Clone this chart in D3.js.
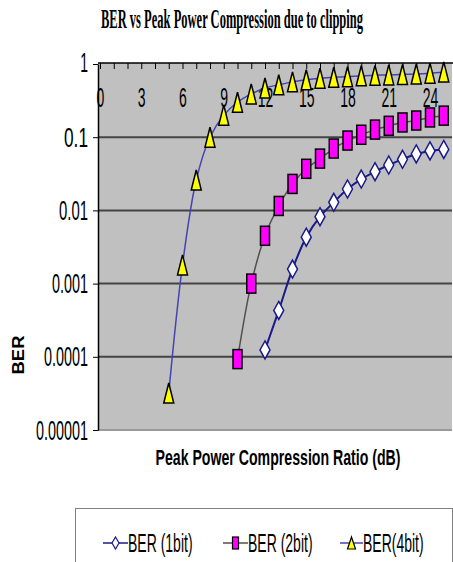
<!DOCTYPE html>
<html><head><meta charset="utf-8">
<script src="https://cdn.jsdelivr.net/npm/d3@7"></script>
<style>html,body{margin:0;padding:0;background:#fff;}svg{display:block;}</style>
</head><body>
<script>
// ---- data ----
const xTickValues = [0,1,2,3,4,5,6,7,8,9,10,11,12,13,14,15,16,17,18,19,20,21,22,23,24,25];
const xTickLabels = ["0","3","6","9","12","15","18","21","24"];
const yTickValues = [0.00001, 0.0001, 0.001, 0.01, 0.1, 1];
const yTickLabels = ["0.00001","0.0001","0.001","0.01","0.1","1"];

const ratio1bit = [12,13,14,15,16,17,18,19,20,21,22,23,24,25];
const ber1bit   = [0.000124,0.00043,0.00158,0.0043,0.0082,0.0129,0.0196,0.0268,0.0338,0.0417,0.0499,0.059,0.065,0.068];
const ratio2bit = [10,11,12,13,14,15,16,17,18,19,20,21,22,23,24,25];
const ber2bit   = [0.000093,0.001,0.0045,0.0115,0.023,0.037,0.051,0.070,0.090,0.108,0.127,0.143,0.159,0.169,0.186,0.197];
const ratio4bit = [5,6,7,8,9,10,11,12,13,14,15,16,17,18,19,20,21,22,23,24,25];
const ber4bit   = [0.000032,0.0018,0.026,0.1,0.2,0.3,0.39,0.47,0.52,0.57,0.61,0.64,0.66,0.67,0.69,0.70,0.71,0.72,0.73,0.75,0.78];

const seriesNames = ["BER (1bit)","BER (2bit)","BER(4bit)"];
const chartTitle = "BER vs Peak Power Compression due to clipping";
const xTitle = "Peak Power Compression Ratio (dB)";
const yTitle = "BER";

// ---- layout ----
const W = 453, H = 562;
const L = 98, R = 452, T = 63, B = 430;
const svg = d3.select("body").append("svg").attr("width", W).attr("height", H);
const sans = "'Liberation Sans', Arial, sans-serif";

const x = d3.scaleLinear().domain([0, 25.6]).range([100, 452]);
const y = d3.scaleLog().domain([1e-5, 1]).range([430, 64]);

function sText(g, px, py, str, k, opts) {
  opts = opts || {};
  const t = g.append("text")
    .attr("transform", `translate(${px},${py}) scale(1,${k})`)
    .attr("text-anchor", opts.anchor || "middle")
    .attr("font-family", opts.family || sans)
    .attr("font-size", opts.size || 14)
    .attr("font-weight", opts.weight || "normal")
    .attr("fill", "#000")
    .text(str);
  if (opts.len) t.attr("textLength", opts.len).attr("lengthAdjust", "spacingAndGlyphs");
  return t;
}

// plot background
svg.append("rect").attr("x", L).attr("y", T).attr("width", R - L).attr("height", B - T).attr("fill", "#c0c0c0");
svg.append("line").attr("x1", L).attr("x2", R).attr("y1", B).attr("y2", B).attr("stroke", "#9a9a9a").attr("stroke-width", 2);

// gridlines
svg.append("g").selectAll("line").data(yTickValues.filter(v => v > 1e-5 && v < 1)).join("line")
  .attr("x1", L).attr("x2", R).attr("y1", d => y(d)).attr("y2", d => y(d))
  .attr("stroke", "#444").attr("stroke-width", 2);

// top x axis (crosses at 1)
const xAxis = d3.axisBottom(x).tickValues(xTickValues).tickSize(6).tickSizeOuter(0)
  .tickFormat(d => d % 3 === 0 ? xTickLabels[d / 3] : "");
const gx = svg.append("g").attr("transform", `translate(0,${T})`).call(xAxis);
gx.select(".domain").attr("stroke", "#000").attr("stroke-width", 1.5).attr("d", `M${L},0H${R + 1}`);
gx.selectAll(".tick line").attr("stroke", "#000");
gx.selectAll(".tick text").attr("y", null).attr("dy", null)
  .attr("transform", "translate(0,44) scale(1,1.95)")
  .attr("font-family", sans).attr("font-size", 14).attr("fill", "#000");

// left y axis (labels drawn separately)
const yAxis = d3.axisLeft(y).tickValues(yTickValues).tickSize(5).tickSizeOuter(0).tickFormat("");
const gy = svg.append("g").attr("transform", `translate(${L},0)`).call(yAxis);
gy.select(".domain").attr("stroke", "#000").attr("stroke-width", 1.5);
gy.selectAll(".tick line").attr("stroke", "#000");
const yLabelLen = [52, 44, 36, 29, 24, 0];
const gyl = svg.append("g");
yTickValues.forEach((v, i) => {
  sText(gyl, 88, y(v) + 9.5 - (i === 5 ? 1.5 : 0), yTickLabels[i], 1.95,
    {anchor: "end", size: 14, len: yLabelLen[i] || null});
});

// series
const curve = d3.curveCatmullRom.alpha(0.5);
function series(xs, ys) { return xs.map((v, i) => [v, ys[i]]); }
const s1 = series(ratio1bit, ber1bit), s2 = series(ratio2bit, ber2bit), s4 = series(ratio4bit, ber4bit);
const line = d3.line().x(d => x(d[0])).y(d => y(d[1])).curve(curve);

const plot = svg.append("g");
plot.append("path").datum(s4).attr("d", line).attr("fill", "none").attr("stroke", "#4545b0").attr("stroke-width", 1.5);
plot.append("path").datum(s2).attr("d", line).attr("fill", "none").attr("stroke", "#505050").attr("stroke-width", 1.5);
plot.append("path").datum(s1).attr("d", line).attr("fill", "none").attr("stroke", "#1a1a8a").attr("stroke-width", 2);

const diamond = (w, h) => `M0,${-h/2}L${w/2},0L0,${h/2}L${-w/2},0Z`;
const tri = (w, h) => `M0,${-h/2}L${w/2},${h/2}L${-w/2},${h/2}Z`;

plot.append("g").selectAll("path").data(s1).join("path")
  .attr("transform", d => `translate(${x(d[0])},${y(d[1])})`)
  .attr("d", diamond(10, 18)).attr("fill", "#fff").attr("stroke", "#1a1a8a").attr("stroke-width", 1.5);
plot.append("g").selectAll("rect").data(s2).join("rect")
  .attr("x", d => x(d[0]) - 4.5).attr("y", d => y(d[1]) - 9.5).attr("width", 9).attr("height", 19)
  .attr("fill", "#ff00ff").attr("stroke", "#000").attr("stroke-width", 1.5);
plot.append("g").selectAll("path").data(s4).join("path")
  .attr("transform", d => `translate(${x(d[0])},${y(d[1])})`)
  .attr("d", tri(10, 20)).attr("fill", "#ffff00").attr("stroke", "#000").attr("stroke-width", 1.5);

// titles
sText(svg, 232, 28, chartTitle, 2.1, {family: "'Liberation Serif', 'Times New Roman', serif", weight: "bold", size: 13, len: 262});
sText(svg, 278, 465, xTitle, 1.55, {weight: "bold", size: 14, len: 245});
svg.append("text").attr("transform", "translate(24,355) rotate(-90) scale(1.15,1)")
  .attr("text-anchor", "middle").attr("font-family", sans).attr("font-weight", "bold").attr("font-size", 16)
  .text(yTitle);

// legend
const lg = svg.append("g");
lg.append("rect").attr("x", 75.5).attr("y", 508.5).attr("width", 377).attr("height", 70)
  .attr("fill", "#fff").attr("stroke", "#808080").attr("stroke-width", 1);
const legY = 543;
const legItems = [
  {x1: 103, x2: 128, color: "#1a1a8a", tx: 128, kind: "d"},
  {x1: 223, x2: 248, color: "#505050", tx: 248, kind: "s"},
  {x1: 340, x2: 363, color: "#4545b0", tx: 363, kind: "t"}
];
legItems.forEach((it, i) => {
  lg.append("line").attr("x1", it.x1).attr("x2", it.x2).attr("y1", legY).attr("y2", legY)
    .attr("stroke", it.color).attr("stroke-width", 1.5);
  const cx = (it.x1 + it.x2) / 2;
  if (it.kind === "d") lg.append("path").attr("transform", `translate(${cx},${legY})`).attr("d", diamond(7, 12))
    .attr("fill", "#fff").attr("stroke", "#1a1a8a").attr("stroke-width", 1.2);
  if (it.kind === "s") lg.append("rect").attr("x", cx - 3).attr("y", legY - 6).attr("width", 6).attr("height", 12)
    .attr("fill", "#ff00ff").attr("stroke", "#000").attr("stroke-width", 1.2);
  if (it.kind === "t") lg.append("path").attr("transform", `translate(${cx},${legY})`).attr("d", tri(8, 12))
    .attr("fill", "#ffff00").attr("stroke", "#000").attr("stroke-width", 1.2);
  sText(lg, it.tx, 552, seriesNames[i], 1.9, {anchor: "start", size: 14});
});
</script>
</body></html>
